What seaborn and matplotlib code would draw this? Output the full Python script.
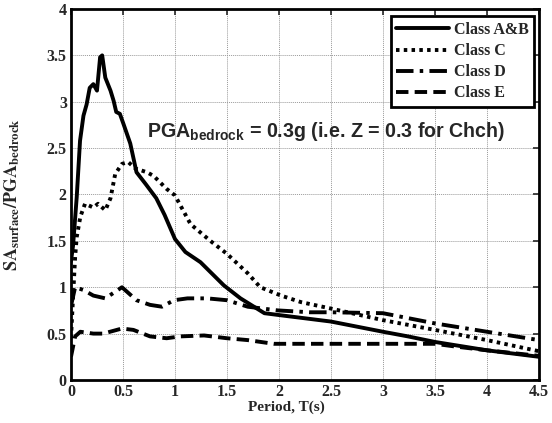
import numpy as np
import pandas as pd
import matplotlib
matplotlib.use("Agg")
import matplotlib.pyplot as plt
import seaborn as sns

# Spectral acceleration ratio curves, period T in seconds
T_ab = [0.0, 0.02, 0.055, 0.087, 0.12, 0.15, 0.18, 0.215, 0.25, 0.28, 0.30, 0.33, 0.38,
        0.41, 0.435, 0.47, 0.505, 0.57, 0.63, 0.72, 0.82, 0.9, 1.0, 1.10, 1.245, 1.47,
        1.63, 1.86, 2.0, 2.5, 3.0, 3.24, 3.5, 4.0, 4.5]
SA_ab = [1.28, 1.45, 1.97, 2.58, 2.85, 2.97, 3.15, 3.19, 3.12, 3.48, 3.5, 3.26, 3.12,
         3.01, 2.89, 2.87, 2.76, 2.55, 2.24, 2.11, 1.96, 1.78, 1.52, 1.38, 1.27, 1.02,
         0.88, 0.72, 0.70, 0.63, 0.52, 0.47, 0.41, 0.32, 0.25]

T_c = [0.0, 0.02, 0.04, 0.055, 0.09, 0.135, 0.215, 0.26, 0.33, 0.38, 0.425, 0.49, 0.55,
       0.62, 0.73, 0.795, 0.92, 1.0, 1.15, 1.34, 1.5, 1.7, 1.82, 2.02, 2.21, 2.5, 3.0,
       3.5, 4.0, 4.5]
SA_c = [0.45, 0.9, 1.33, 1.54, 1.76, 1.9, 1.86, 1.9, 1.83, 1.96, 2.22, 2.33, 2.35,
        2.28, 2.24, 2.2, 2.06, 1.99, 1.68, 1.5, 1.36, 1.15, 1.0, 0.91, 0.84, 0.77, 0.645,
        0.54, 0.43, 0.31]

T_d = [0.0, 0.04, 0.12, 0.215, 0.33, 0.49, 0.63, 0.76, 0.875, 0.99, 1.12, 1.31, 1.5,
       1.7, 1.99, 2.3, 2.5, 3.0, 3.5, 4.0, 4.5]
SA_d = [0.8, 1.0, 0.97, 0.91, 0.88, 1.0, 0.86, 0.81, 0.79, 0.86, 0.88, 0.88, 0.86,
        0.79, 0.75, 0.73, 0.73, 0.72, 0.61, 0.52, 0.43]

T_e = [0.0, 0.04, 0.09, 0.215, 0.31, 0.49, 0.6, 0.76, 0.92, 1.05, 1.28, 1.5, 1.7,
       1.95, 2.5, 3.0, 3.5, 3.7, 4.0, 4.5]
SA_e = [0.25, 0.47, 0.52, 0.50, 0.50, 0.555, 0.54, 0.47, 0.45, 0.47, 0.48, 0.45, 0.43,
        0.39, 0.39, 0.39, 0.39, 0.36, 0.32, 0.26]

labels = ["Class A&B", "Class C", "Class D", "Class E"]
styles = ["-", (0, (0.9, 1.1)), (0, (4.5, 1.6, 0.9, 1.6)), (0, (3.2, 1.6))]

frames = []
for lab, t, sa in zip(labels, [T_ab, T_c, T_d, T_e], [SA_ab, SA_c, SA_d, SA_e]):
    frames.append(pd.DataFrame({"T": t, "SA": sa, "Class": lab}))
data = pd.concat(frames, ignore_index=True)

sns.set_style("white")
plt.rcParams["font.family"] = ["Liberation Serif", "DejaVu Serif"]
plt.rcParams["font.weight"] = "bold"
plt.rcParams["mathtext.fontset"] = "custom"
plt.rcParams["mathtext.bf"] = "Liberation Sans:bold"
plt.rcParams["mathtext.rm"] = "Liberation Sans"

fig = plt.figure(figsize=(5.52, 4.23), dpi=100)
ax = fig.add_axes([0.1286, 0.1017, 0.8478, 0.8770])

for lab, ls in zip(labels, styles):
    sub = data[data["Class"] == lab]
    sns.lineplot(data=sub, x="T", y="SA", ax=ax, color="black", linewidth=2.8,
                 linestyle=ls, label=lab, sort=False, estimator=None)

ax.set_xlim(0, 4.5)
ax.set_ylim(0, 4)
ax.set_xticks(np.arange(0, 4.51, 0.5))
ax.set_yticks(np.arange(0, 4.01, 0.5))
ax.set_xticklabels(["0", "0.5", "1", "1.5", "2", "2.5", "3", "3.5", "4", "4.5"])
ax.set_yticklabels(["0", "0.5", "1", "1.5", "2", "2.5", "3", "3.5", "4"])
ax.grid(True, color="#9a9a9a", linestyle=(0, (1, 1)), linewidth=0.7)
ax.tick_params(direction="in", length=4, width=1.2, top=True, right=True,
               labelsize=11.5, pad=3)
for lbl in ax.get_xticklabels() + ax.get_yticklabels():
    lbl.set_fontweight("bold")
for sp in ax.spines.values():
    sp.set_visible(True)
    sp.set_linewidth(2.0)
    sp.set_color("black")

ax.set_xlabel("Period, T(s)", fontsize=11, fontweight="bold")
ax.xaxis.set_label_coords(0.46, -0.055)
ax.set_ylabel(r"$\mathbf{SA_{surface}/PGA_{bedrock}}$", fontsize=13,
              math_fontfamily="stix")
ax.yaxis.set_label_coords(-0.105, 0.5)

ax.text(0.73, 2.62, r"$\mathbf{PGA_{bedrock}}$" + " = 0.3g (i.e. Z = 0.3 for Chch)",
        fontsize=14.1, fontweight="bold", family="Liberation Sans", ha="left",
        va="baseline")

leg = ax.legend(loc="upper right", bbox_to_anchor=(0.99, 0.98), frameon=True,
                fancybox=False, edgecolor="black", framealpha=1, fontsize=11.5,
                handlelength=3.3, handletextpad=0.3, borderpad=0.35,
                labelspacing=0.32, borderaxespad=0)
leg.get_frame().set_linewidth(2.0)
for txt in leg.get_texts():
    txt.set_fontweight("bold")

fig.savefig("out.png", dpi=100, facecolor="white")
